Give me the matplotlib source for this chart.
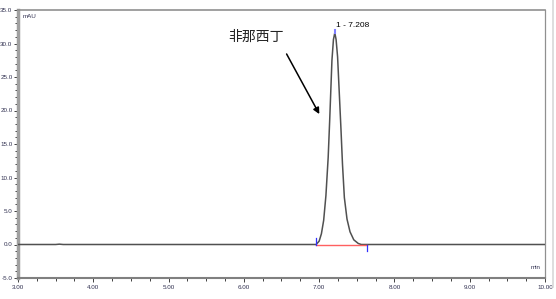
import matplotlib.pyplot as plt
from matplotlib.lines import Line2D
from matplotlib.ticker import MultipleLocator, FormatStrFormatter

# chromatogram trace (min, mAU)
time_min = [3.0, 3.5, 3.55, 3.6, 5.0, 6.0, 6.96, 7.00, 7.03, 7.06, 7.09, 7.12, 7.14,
            7.17, 7.19, 7.208, 7.225, 7.245, 7.27, 7.29, 7.31, 7.335, 7.37,
            7.41, 7.46, 7.52, 7.56, 8.0, 9.0, 10.0]
signal_mau = [0.0, 0.0, 0.05, 0.0, 0.0, 0.0, 0.0, 0.5, 1.6, 3.6, 7.3, 13.0, 18.5,
              27.5, 30.6, 31.6, 30.6, 28.0, 22.0, 17.2, 12.0, 7.0, 3.8,
              1.9, 0.7, 0.15, 0.0, 0.0, 0.0, 0.0]

peak_label = "1 - 7.208"
peak_time = 7.208
peak_height = 31.6
baseline_start = 6.96
baseline_end = 7.63
compound = "非那西丁"

fig = plt.figure(figsize=(5.56, 2.99), dpi=100)
ax = fig.add_axes([18 / 556, 21 / 299, 527 / 556, 268 / 299])

ax.plot(time_min, signal_mau, color='#505050', lw=1.1, zorder=3)
# integration baseline + markers
ax.plot([baseline_start, baseline_end], [0, 0], color='#ff6060', lw=1.0, zorder=4)
ax.plot([baseline_start, baseline_start], [0, 1.0], color='#3030ff', lw=0.9, zorder=5)
ax.plot([baseline_end, baseline_end], [0, -1.0], color='#3030ff', lw=0.9, zorder=5)
ax.plot([peak_time, peak_time], [peak_height, peak_height + 0.4], color='#8080ff', lw=1.5, zorder=5)

ax.text(peak_time + 0.01, peak_height + 0.6, peak_label, fontsize=6.0,
        family='Liberation Sans', ha='left', va='bottom')
ax.text(6.16, 31.0, compound, fontsize=10, family=['Noto Sans CJK SC', 'DejaVu Sans'],
        ha='center', va='center', color='#222222')
ax.annotate('', xy=(7.02, 19.1), xytext=(6.55, 28.8),
            arrowprops=dict(arrowstyle='-|>', color='black', lw=1.1, mutation_scale=9))

ax.set_xlim(3, 10)
ax.set_ylim(-5, 35)
ax.xaxis.set_major_locator(MultipleLocator(1))
ax.xaxis.set_minor_locator(MultipleLocator(0.25))
ax.yaxis.set_major_locator(MultipleLocator(5))
ax.yaxis.set_minor_locator(MultipleLocator(1))
ax.xaxis.set_major_formatter(FormatStrFormatter('%.2f'))
ax.yaxis.set_major_formatter(FormatStrFormatter('%.1f'))
ax.tick_params(which='both', direction='out', color='#404040', width=0.7,
               labelsize=4.5, labelcolor='#303050', pad=1)
ax.tick_params(axis='x', pad=2)
ax.tick_params(which='major', length=3)
ax.tick_params(which='minor', length=2)
for lab in ax.get_xticklabels() + ax.get_yticklabels():
    lab.set_family('Liberation Sans')

ax.spines['left'].set_color('#a0a0a0')
ax.spines['left'].set_linewidth(2.5)
ax.spines['bottom'].set_color('#808080')
ax.spines['bottom'].set_linewidth(1.5)
ax.spines['top'].set_color('#909090')
ax.spines['top'].set_linewidth(1.2)
ax.spines['right'].set_color('#909090')
ax.spines['right'].set_linewidth(0.9)

ax.text(0.008, 0.985, 'mAU', transform=ax.transAxes, fontsize=4.5,
        family='Liberation Sans', color='#303050', va='top', ha='left')
ax.text(0.992, 0.03, 'min', transform=ax.transAxes, fontsize=4.5,
        family='Liberation Sans', color='#303050', va='bottom', ha='right')

fig.add_artist(Line2D([553 / 556, 553 / 556], [12 / 299, 1.0], color='#d8d8d8', lw=1.2))

fig.savefig('out.png', dpi=100)
